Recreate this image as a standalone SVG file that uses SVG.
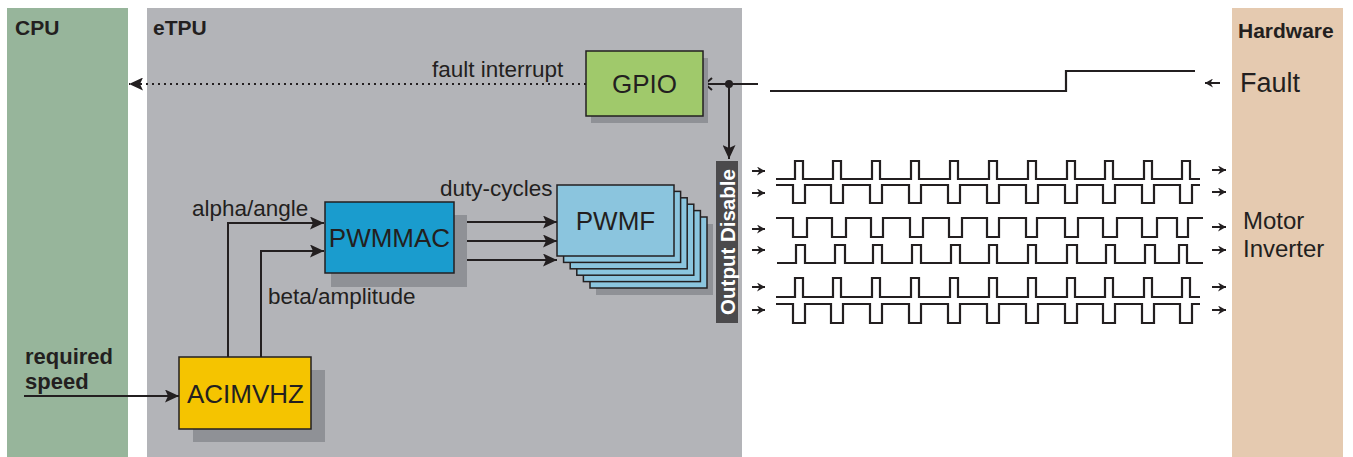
<svg xmlns="http://www.w3.org/2000/svg" width="1353" height="457" viewBox="0 0 1353 457">
<style>
text{font-family:"Liberation Sans",Arial,sans-serif;fill:#231f20}
.title{font-weight:bold;font-size:21px}
.lbl{font-size:22.5px}
.big{font-size:26px}
.box{stroke:#231f20;stroke-width:1.5}
.sh{fill:#8f9196}
.ln{fill:none;stroke:#231f20;stroke-width:2}
.wf{fill:none;stroke:#231f20;stroke-width:2.2;stroke-linejoin:miter}
.sa{fill:none;stroke:#231f20;stroke-width:2}
</style>
<defs>
<marker id="ah" markerUnits="userSpaceOnUse" markerWidth="14" markerHeight="13" refX="14" refY="6.5" orient="auto">
<path d="M0,0 L14,6.5 L0,13 L3,6.5 z" fill="#231f20"/>
</marker>
<marker id="sm" markerUnits="userSpaceOnUse" markerWidth="8" markerHeight="9" refX="8" refY="4.5" orient="auto">
<path d="M0,0 L8,4.5 L0,9 L2.5,4.5 z" fill="#231f20"/>
</marker>
</defs>

<g id="panels">
<rect id="cpu" x="7" y="8" width="121" height="449" fill="#97b59b"/>
<rect id="etpu" x="147" y="8" width="595" height="449" fill="#b3b4b8"/>
<rect id="hardware" x="1232" y="8" width="111" height="449" fill="#e5cab0"/>
<text class="title" x="15" y="35">CPU</text>
<text class="title" x="153" y="35">eTPU</text>
<text class="title" x="1238" y="38">Hardware</text>
</g>

<g id="connectors">
<line class="ln" x1="586" y1="84" x2="129" y2="84" stroke-dasharray="2,4" marker-end="url(#ah)"/>
<line class="ln" x1="758" y1="84" x2="708" y2="84" stroke-width="1.5"/>
<path class="ln" d="M712,78 L705,84 L712,90"/>
<circle cx="729" cy="84" r="4" fill="#231f20"/>
<line class="ln" x1="729" y1="84" x2="729" y2="159" stroke-width="1.5" marker-end="url(#ah)"/>
<line class="ln" x1="24" y1="396" x2="179" y2="396" marker-end="url(#ah)"/>
<path class="ln" d="M228,357 V223 H324" marker-end="url(#ah)"/>
<path class="ln" d="M261,357 V251 H324" marker-end="url(#ah)"/>
<line class="ln" x1="454" y1="222" x2="557" y2="222" marker-end="url(#ah)"/>
<line class="ln" x1="454" y1="241" x2="557" y2="241" marker-end="url(#ah)"/>
<line class="ln" x1="454" y1="260" x2="557" y2="260" marker-end="url(#ah)"/>
<line class="sa" x1="1220" y1="83" x2="1205" y2="83" marker-end="url(#sm)"/>
</g>

<g id="labels">
<text class="lbl" x="432" y="77">fault interrupt</text>
<text class="lbl" x="192" y="216">alpha/angle</text>
<text class="lbl" x="268" y="304">beta/amplitude</text>
<text class="lbl" x="440" y="196">duty-cycles</text>
<text x="25" y="364" font-weight="bold" font-size="22">required</text>
<text x="25" y="389" font-weight="bold" font-size="22">speed</text>
</g>

<g id="gpio">
<rect class="sh" x="591" y="58" width="117" height="65"/>
<rect class="box" x="586" y="51" width="117" height="65" fill="#a0c96b"/>
<text class="big" x="644.5" y="93" text-anchor="middle">GPIO</text>
</g>

<g id="pwmmac">
<rect class="sh" x="331" y="215" width="136" height="72"/>
<rect class="box" x="325" y="202" width="129" height="71" fill="#1a9cce"/>
<text class="big" x="389.5" y="247" text-anchor="middle" font-size="25">PWMMAC</text>
</g>

<g id="pwmf">
<rect class="sh" x="596" y="224" width="117" height="71"/>
<rect class="box" x="590" y="217" width="117" height="71" fill="#8bc5de"/>
<rect class="box" x="583.4" y="210.6" width="117" height="71" fill="#8bc5de"/>
<rect class="box" x="576.8" y="204.2" width="117" height="71" fill="#8bc5de"/>
<rect class="box" x="570.2" y="197.8" width="117" height="71" fill="#8bc5de"/>
<rect class="box" x="563.6" y="191.4" width="117" height="71" fill="#8bc5de"/>
<rect class="box" x="557" y="185" width="117" height="71" fill="#8bc5de"/>
<text class="big" x="615.5" y="230" text-anchor="middle" font-size="27">PWMF</text>
</g>

<g id="acimvhz">
<rect class="sh" x="193" y="370" width="132" height="72"/>
<rect class="box" x="179" y="357" width="132" height="72" fill="#f5c400"/>
<text class="big" x="245.5" y="403" text-anchor="middle" font-size="28">ACIMVHZ</text>
</g>

<g id="output-disable">
<rect x="716" y="161" width="22" height="162" fill="#4b4a4c"/>
<text x="0" y="0" transform="translate(734.5,242) rotate(-90)" text-anchor="middle" font-weight="bold" font-size="20.5" style="fill:#ffffff">Output Disable</text>
</g>

<g id="fault-signal">
<path class="wf" d="M770,91 H1066 V71 H1195" stroke-width="2"/>
<text x="1240" y="92" font-size="27">Fault</text>
</g>

<g id="waveforms">
<path class="wf" d="M776,179 H795 V161 H803 V179 H833 V161 H841 V179 H872 V161 H880 V179 H911 V161 H919 V179 H950 V161 H958 V179 H989 V161 H997 V179 H1028 V161 H1036 V179 H1067 V161 H1075 V179 H1105 V161 H1113 V179 H1144 V161 H1152 V179 H1182 V161 H1190 V179 H1200"/>
<path class="wf" d="M776,185 H793 V203 H805 V185 H831 V203 H843 V185 H870 V203 H882 V185 H909 V203 H921 V185 H948 V203 H960 V185 H987 V203 H999 V185 H1026 V203 H1038 V185 H1065 V203 H1077 V185 H1103 V203 H1115 V185 H1142 V203 H1154 V185 H1180 V203 H1192 V185 H1200"/>
<path class="wf" d="M776,218 H793 V237 H807 V218 H832 V237 H846 V218 H871 V237 H883 V218 H910 V237 H923 V218 H949 V237 H962 V218 H987 V237 H999 V218 H1026 V237 H1037 V218 H1065 V237 H1078 V218 H1103 V237 H1117 V218 H1142 V237 H1157 V218 H1177 V237 H1188 V218 H1203"/>
<path class="wf" d="M777,263 H796 V245 H805 V263 H835 V245 H845 V263 H873 V245 H882 V263 H912 V245 H921 V263 H951 V245 H960 V263 H989 V245 H997 V263 H1028 V245 H1036 V263 H1067 V245 H1077 V263 H1106 V245 H1115 V263 H1145 V245 H1155 V263 H1179 V245 H1187 V263 H1203"/>
<path class="wf" d="M776,297 H795 V278 H803 V297 H833 V278 H841 V297 H872 V278 H880 V297 H911 V278 H919 V297 H950 V278 H958 V297 H989 V278 H997 V297 H1028 V278 H1036 V297 H1067 V278 H1075 V297 H1105 V278 H1113 V297 H1144 V278 H1152 V297 H1182 V278 H1190 V297 H1200"/>
<path class="wf" d="M776,304 H793 V323 H805 V304 H831 V323 H843 V304 H870 V323 H882 V304 H909 V323 H921 V304 H948 V323 H960 V304 H987 V323 H999 V304 H1026 V323 H1038 V304 H1065 V323 H1077 V304 H1103 V323 H1115 V304 H1142 V323 H1154 V304 H1180 V323 H1192 V304 H1200"/>
<line class="sa" x1="752" y1="171" x2="765" y2="171" marker-end="url(#sm)"/>
<line class="sa" x1="752" y1="193" x2="765" y2="193" marker-end="url(#sm)"/>
<line class="sa" x1="752" y1="229" x2="765" y2="229" marker-end="url(#sm)"/>
<line class="sa" x1="752" y1="250" x2="765" y2="250" marker-end="url(#sm)"/>
<line class="sa" x1="752" y1="287" x2="765" y2="287" marker-end="url(#sm)"/>
<line class="sa" x1="752" y1="310" x2="765" y2="310" marker-end="url(#sm)"/>
<line class="sa" x1="1212" y1="170" x2="1226" y2="170" marker-end="url(#sm)"/>
<line class="sa" x1="1212" y1="192" x2="1226" y2="192" marker-end="url(#sm)"/>
<line class="sa" x1="1212" y1="227" x2="1226" y2="227" marker-end="url(#sm)"/>
<line class="sa" x1="1212" y1="250" x2="1226" y2="250" marker-end="url(#sm)"/>
<line class="sa" x1="1212" y1="287" x2="1226" y2="287" marker-end="url(#sm)"/>
<line class="sa" x1="1212" y1="310" x2="1226" y2="310" marker-end="url(#sm)"/>
</g>

<g id="motor-inverter">
<text x="1243" y="229" font-size="24">Motor</text>
<text x="1243" y="257" font-size="24">Inverter</text>
</g>
</svg>
